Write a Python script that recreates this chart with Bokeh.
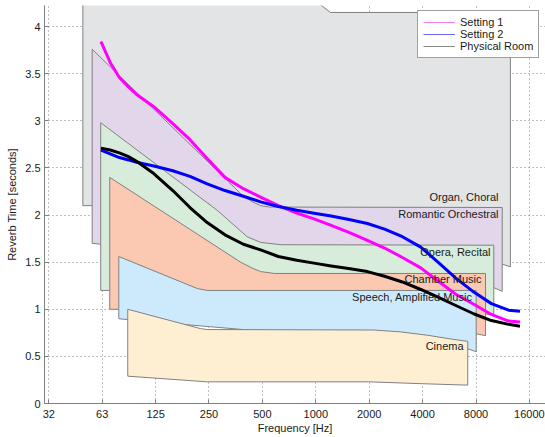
from bokeh.plotting import figure
from bokeh.models import FixedTicker, Legend, LegendItem, Range1d
from bokeh.core.properties import value
from bokeh.embed import file_html
from bokeh.resources import INLINE

FONT = "Liberation Sans"

# ---------------- data ----------------
xtick_labels = ["32", "63", "125", "250", "500", "1000", "2000", "4000", "8000", "16000"]
ytick_values = [0, 0.5, 1, 1.5, 2, 2.5, 3, 3.5, 4]
ytick_labels = ["0", "0.5", "1", "1.5", "2", "2.5", "3", "3.5", "4"]

freq = [63, 71, 80, 90, 100, 125, 160, 200, 250, 315, 400, 500, 630, 800, 1000, 1250,
        1600, 2000, 2500, 3150, 4000, 5000, 6300, 8000, 10000, 12500, 14500]
setting1 = [3.84, 3.62, 3.46, 3.36, 3.28, 3.15, 2.97, 2.80, 2.60, 2.40, 2.28, 2.19, 2.10, 2.02,
            1.96, 1.89, 1.81, 1.73, 1.65, 1.55, 1.44, 1.30, 1.16, 1.05, 0.945, 0.875, 0.865]
setting2 = [2.69, 2.65, 2.61, 2.585, 2.56, 2.52, 2.47, 2.41, 2.33, 2.26, 2.20, 2.14, 2.09, 2.05,
            2.02, 1.99, 1.95, 1.91, 1.85, 1.77, 1.66, 1.50, 1.33, 1.18, 1.06, 0.99, 0.98]
physical = [2.71, 2.69, 2.66, 2.62, 2.57, 2.44, 2.26, 2.08, 1.92, 1.79, 1.69, 1.63, 1.56, 1.52,
            1.49, 1.46, 1.43, 1.40, 1.35, 1.29, 1.21, 1.13, 1.04, 0.95, 0.88, 0.84, 0.82]

# recommended reverb-time regions: top edge and bottom edge (frequency, seconds)
organ_top_f = [49.8, 980, 1110, 1240, 12800]
organ_top_v = [4.30, 4.30, 4.22, 4.15, 4.15]
organ_bot_f = [49.8, 56.2, 11500, 12800]
organ_bot_v = [2.10, 2.10, 1.48, 1.45]

romantic_top_f = [56.2, 400, 450, 500, 560, 11510]
romantic_top_v = [3.76, 2.20, 2.14, 2.10, 2.085, 2.08]
romantic_bot_f = [56.2, 63, 10300, 11510]
romantic_bot_v = [1.70, 1.69, 1.23, 1.19]

opera_top_f = [62.8, 285, 420, 500, 650, 10320]
opera_top_v = [2.98, 2.05, 1.77, 1.71, 1.685, 1.68]
opera_bot_f = [62.8, 70.6, 9270, 10320]
opera_bot_v = [1.20, 1.20, 0.95, 0.94]

chamber_top_f = [70.6, 386, 445, 500, 600, 9270]
chamber_top_v = [2.40, 1.50, 1.44, 1.40, 1.38, 1.38]
chamber_bot_f = [70.6, 79.4, 8210, 9270]
chamber_bot_v = [1.00, 1.00, 0.74, 0.72]

speech_top_f = [79.4, 220, 250, 8210]
speech_top_v = [1.56, 1.22, 1.20, 1.20]
speech_bot_f = [79.4, 89.2, 7360, 8210]
speech_bot_v = [0.90, 0.89, 0.58, 0.55]

cinema_top_f = [89.2, 229, 250, 2170, 3075, 4350, 6140, 7360]
cinema_top_v = [1.00, 0.795, 0.785, 0.78, 0.76, 0.725, 0.68, 0.66]
cinema_bot_f = [89.2, 250, 2040, 4070, 7360]
cinema_bot_v = [0.29, 0.23, 0.23, 0.21, 0.195]

region_names = ["Organ, Choral", "Romantic Orchestral", "Opera, Recital",
                "Chamber Music", "Speech, Amplified Music", "Cinema"]
region_colors = ["#e3e4e6", "#e1d6ea", "#d8ecdc", "#fbc8b2", "#cdeafc", "#feefd3"]
label_f = [10970, 10970, 9890, 8800, 7830, 6970]
label_v = [2.19, 2.01, 1.605, 1.32, 1.125, 0.61]

series_names = ["Setting 1", "Setting 2", "Physical Room"]
series_colors = ["#ff00ff", "#0000ff", "#000000"]
legend_colors = ["#f080f0", "#6a6af0", "#8a8a8a"]

# ---------------- figure ----------------
p = figure(width=545, height=437, x_axis_type="log",
           x_range=Range1d(30.27, 20190), y_range=Range1d(0, 4.224),
           output_backend="svg", toolbar_location=None, title=None,
           min_border_left=44, min_border_right=0, min_border_top=5, min_border_bottom=34)
p.outline_line_color = None
p.background_fill_color = "white"

xticks = [32 * 2 ** k for k in range(len(xtick_labels))]
p.xaxis.ticker = FixedTicker(ticks=xticks)
p.xaxis.major_label_overrides = {t: l for t, l in zip(xticks, xtick_labels)}
p.yaxis.ticker = FixedTicker(ticks=ytick_values)
p.yaxis.major_label_overrides = {t: l for t, l in zip(ytick_values, ytick_labels)}

p.xaxis.axis_label = "Frequency [Hz]"
p.yaxis.axis_label = "Reverb Time [seconds]"
for ax in (p.xaxis, p.yaxis):
    ax.axis_label_text_font = FONT
    ax.axis_label_text_font_size = "11px"
    ax.axis_label_text_font_style = "normal"
    ax.axis_label_text_color = "#1a1a1a"
    ax.major_label_text_font = FONT
    ax.major_label_text_font_size = "11px"
    ax.major_label_text_color = "#1a1a1a"
    ax.axis_line_color = "#808080"
    ax.major_tick_line_color = "#808080"
    ax.major_tick_in = 4
    ax.major_tick_out = 0
    ax.minor_tick_line_color = None
p.xaxis.major_label_standoff = 6
p.xaxis.axis_label_standoff = 1
p.yaxis.major_label_standoff = 4
p.yaxis.axis_label_standoff = 4

for g in (p.xgrid, p.ygrid):
    g.grid_line_color = "#808080"
    g.grid_line_dash = "1 3"
    g.grid_line_width = 1

regions = [
    (organ_top_f, organ_top_v, organ_bot_f, organ_bot_v),
    (romantic_top_f, romantic_top_v, romantic_bot_f, romantic_bot_v),
    (opera_top_f, opera_top_v, opera_bot_f, opera_bot_v),
    (chamber_top_f, chamber_top_v, chamber_bot_f, chamber_bot_v),
    (speech_top_f, speech_top_v, speech_bot_f, speech_bot_v),
    (cinema_top_f, cinema_top_v, cinema_bot_f, cinema_bot_v),
]
for (tf, tv, bf, bv), col in zip(regions, region_colors):
    xs = list(tf) + list(reversed(bf))
    ys = list(tv) + list(reversed(bv))
    p.patch(xs, ys, fill_color=col, line_color="#808080", line_width=1)

for vals, col in zip([setting1, setting2, physical], series_colors):
    p.line(freq, vals, line_color=col, line_width=3, line_join="round")

p.text(x=label_f, y=label_v, text=region_names, text_align="right",
       text_baseline="middle", text_font=value(FONT), text_font_size="11px",
       text_color="#1a1a1a")

# legend (thin sample lines as in the original); dummy renderers hold no visible data
nan = float("nan")
items = []
for name, col in zip(series_names, legend_colors):
    r = p.line([nan], [nan], line_color=col, line_width=1)
    items.append(LegendItem(label=name, renderers=[r]))
legend = Legend(items=items, location=(373, 345), padding=5, spacing=0, margin=0,
                glyph_width=32, glyph_height=12, label_height=12, label_standoff=5,
                label_text_font=FONT, label_text_font_size="11px",
                label_text_color="#1a1a1a", border_line_color="#404040",
                border_line_width=1, background_fill_color="white",
                background_fill_alpha=1)
p.add_layout(legend)

open("out.html", "w").write(file_html(p, INLINE))
